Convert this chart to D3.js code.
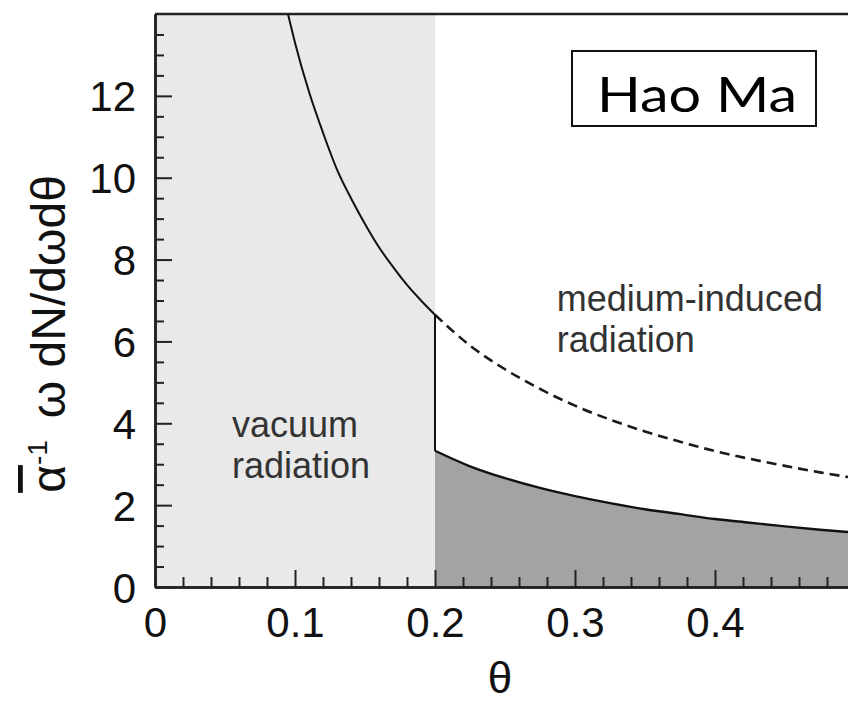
<!DOCTYPE html>
<html>
<head>
<meta charset="utf-8">
<script src="https://cdn.jsdelivr.net/npm/d3@7"></script>
<style>
  body { margin: 0; background: #fff; }
  svg { display: block; font-family: "Liberation Sans", Arial, sans-serif; }
</style>
</head>
<body>
<div id="chart"></div>
<script>
// values
const upperTheta = [0.095, 0.1, 0.11, 0.12, 0.13, 0.14, 0.15, 0.16, 0.17, 0.18, 0.19, 0.2];
const upperSolid = [14.0, 13.3, 12.1, 11.1, 10.2, 9.5, 8.87, 8.3, 7.82, 7.38, 7.0, 6.65];
const tailTheta = [0.2, 0.225, 0.25, 0.275, 0.3, 0.325, 0.35, 0.375, 0.4, 0.425, 0.45, 0.475, 0.5];
const upperDashed = [6.65, 5.9, 5.32, 4.84, 4.43, 4.09, 3.8, 3.55, 3.32, 3.13, 2.96, 2.8, 2.66];
const lowerSolid = [3.33, 2.95, 2.66, 2.42, 2.22, 2.05, 1.9, 1.78, 1.66, 1.57, 1.48, 1.4, 1.33];
const xTicks = [0, 0.1, 0.2, 0.3, 0.4];
const xTickLabels = ["0", "0.1", "0.2", "0.3", "0.4"];
const yTicks = [0, 2, 4, 6, 8, 10, 12];
const vacuumEdge = 0.2;

const width = 848, height = 701;
const margin = { top: 14, left: 155, bottom: 114 };

const svg = d3.select("#chart").append("svg").attr("width", width).attr("height", height);

const x = d3.scaleLinear().domain([0, 0.5]).range([margin.left, margin.left + 700]);
const y = d3.scaleLinear().domain([0, 14]).range([height - margin.bottom, margin.top]);

const upper = upperTheta.map((t, i) => ({ t, v: upperSolid[i] }));
const dashed = tailTheta.map((t, i) => ({ t, v: upperDashed[i] }));
const lower = tailTheta.map((t, i) => ({ t, v: lowerSolid[i] }));

// vacuum region
svg.append("rect")
  .attr("x", x(0)).attr("y", y(14))
  .attr("width", x(vacuumEdge) - x(0)).attr("height", y(0) - y(14))
  .attr("fill", "#e9e9e9");

// medium-induced area under lower curve
svg.append("path")
  .datum(lower)
  .attr("fill", "#a3a3a3")
  .attr("d", d3.area().x((d) => x(d.t)).y0(y(0)).y1((d) => y(d.v)).curve(d3.curveMonotoneX));

const line = d3.line().x((d) => x(d.t)).y((d) => y(d.v)).curve(d3.curveMonotoneX);

svg.append("path").datum(upper).attr("fill", "none").attr("stroke", "#111").attr("stroke-width", 2).attr("d", line);
svg.append("path").datum(dashed).attr("fill", "none").attr("stroke", "#1a1a1a").attr("stroke-width", 2.6)
  .attr("stroke-dasharray", "10,6").attr("d", line);
svg.append("path").datum(lower).attr("fill", "none").attr("stroke", "#111").attr("stroke-width", 2.4).attr("d", line);
svg.append("line")
  .attr("x1", x(vacuumEdge)).attr("x2", x(vacuumEdge))
  .attr("y1", y(lowerSolid[0])).attr("y2", y(upperDashed[0]))
  .attr("stroke", "#111").attr("stroke-width", 2);

// frame top / right
svg.append("path")
  .attr("fill", "none").attr("stroke", "#222").attr("stroke-width", 2.5)
  .attr("d", `M${x(0)},${y(14)}H${x(0.5)}V${y(0)}`);

// axes with inward ticks
const yMinor = d3.range(0, 14.01, 0.5).filter((d) => d % 2 !== 0);
const xMinor = d3.range(0, 0.501, 0.02).filter((d) => Math.abs(d * 10 - Math.round(d * 10)) > 1e-6);

svg.append("g").attr("transform", `translate(${x(0)},0)`)
  .call(d3.axisLeft(y).tickValues(yMinor).tickSize(-9).tickSizeOuter(0).tickFormat(""));
svg.append("g").attr("transform", `translate(0,${y(0)})`)
  .call(d3.axisBottom(x).tickValues(xMinor).tickSize(-10).tickSizeOuter(0).tickFormat(""));

const yAxis = svg.append("g").attr("transform", `translate(${x(0)},0)`)
  .call(d3.axisLeft(y).tickValues(yTicks).tickSize(-17).tickSizeOuter(0).tickPadding(19));
const xAxis = svg.append("g").attr("transform", `translate(0,${y(0)})`)
  .call(d3.axisBottom(x).tickValues(xTicks).tickSize(-17).tickSizeOuter(0).tickPadding(20)
    .tickFormat((d, i) => xTickLabels[i]));

svg.selectAll(".domain").attr("stroke", "#222").attr("stroke-width", 2.5);
svg.selectAll(".tick line").attr("stroke", "#222").attr("stroke-width", 2);
[xAxis, yAxis].forEach((g) =>
  g.selectAll("text").attr("font-size", 42).attr("fill", "#111").attr("font-family", "Liberation Sans, Arial, sans-serif"));
yAxis.selectAll("text").attr("dy", "0.36em");

// axis titles
svg.append("text")
  .attr("x", x(0.25) - 5).attr("y", 693)
  .attr("text-anchor", "middle").attr("font-size", 44).attr("fill", "#111")
  .text("θ");

const yTitle = svg.append("text")
  .attr("transform", `translate(65,334) rotate(-90)`)
  .attr("text-anchor", "middle").attr("font-size", 48).attr("fill", "#111");
yTitle.append("tspan").style("text-decoration", "overline").text("α");
yTitle.append("tspan").attr("font-size", 28).attr("dy", -18).text("-1");
yTitle.append("tspan").attr("dy", 18).attr("dx", 22).text("ω dN/dωdθ");

// region labels
const note = (lines, x0, y0) => {
  const t = svg.append("text").attr("font-size", 36).attr("fill", "#333");
  lines.forEach((s, i) => t.append("tspan").attr("x", x0).attr("y", y0 + i * 41).text(s));
};
note(["vacuum", "radiation"], x(0.055), 437);
note(["medium-induced", "radiation"], x(0.287), 311);

// name box
svg.append("rect").attr("x", 572).attr("y", 51).attr("width", 244).attr("height", 75)
  .attr("fill", "#fff").attr("stroke", "#111").attr("stroke-width", 2);
svg.append("text").attr("x", 597).attr("y", 112)
  .attr("font-family", "Lato, 'Open Sans', sans-serif").attr("font-size", 48).attr("fill", "#000")
  .attr("textLength", 200).attr("lengthAdjust", "spacingAndGlyphs")
  .text("Hao Ma");
</script>
</body>
</html>
